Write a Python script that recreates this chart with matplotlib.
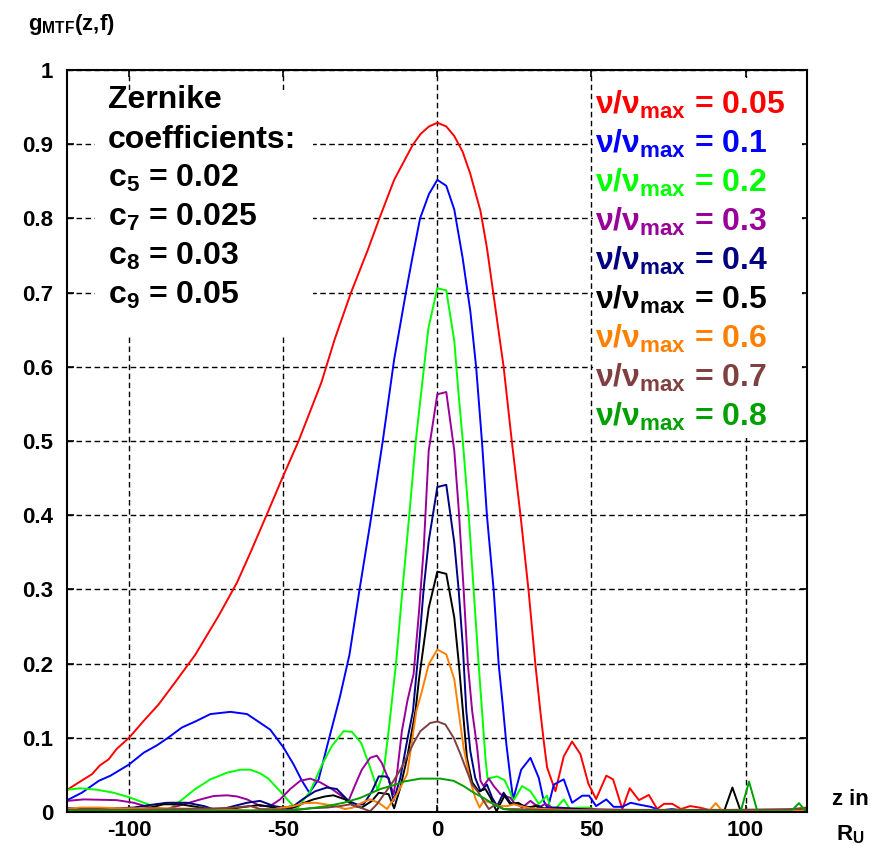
import numpy as np
import matplotlib
matplotlib.use('Agg')
import matplotlib.pyplot as plt
from matplotlib.patches import Rectangle

plt.rcParams['font.family'] = ['Liberation Sans', 'DejaVu Sans']
plt.rcParams['font.weight'] = 'bold'
plt.rcParams['mathtext.fontset'] = 'custom'
plt.rcParams['mathtext.rm'] = 'Liberation Sans:bold'
plt.rcParams['mathtext.it'] = 'Liberation Sans:bold'
plt.rcParams['mathtext.bf'] = 'Liberation Sans:bold'
plt.rcParams['axes.unicode_minus'] = False

#################### data #########################################
# nu/nu_max = 0.05
x_005 = [-120, -117, -112, -109.4, -106.6, -104, -100, -95.2, -90.4, -87.7, -85, -78.5, -71, -65, -60.8,
         -55.4, -50.5, -45, -37.6, -33.3, -28, -22.6, -18.8, -14, -8, -5.4, -2.7, 0, 2.9, 5.5, 8.2, 10.7,
         14, 16.1, 18.8, 21.5, 24.2, 27, 29.6, 31.8, 33.4, 34.5, 35.6, 38.3, 41, 43.7, 46.4, 49, 51.5,
         54.8, 57, 60, 62.4, 65.4, 68.6, 71.3, 73.5, 76.2, 79, 82, 85, 88, 92, 100, 110, 116, 120]
y_005 = [0.030, 0.038, 0.051, 0.063, 0.071, 0.085, 0.100, 0.123, 0.145, 0.160, 0.175, 0.212, 0.264, 0.309,
         0.348, 0.400, 0.448, 0.500, 0.579, 0.637, 0.700, 0.757, 0.800, 0.852, 0.899, 0.914, 0.924, 0.929,
         0.924, 0.911, 0.890, 0.860, 0.810, 0.760, 0.680, 0.600, 0.498, 0.399, 0.298, 0.199, 0.136, 0.096,
         0.060, 0.028, 0.075, 0.095, 0.078, 0.038, 0.0175, 0.049, 0.044, 0.004, 0.032, 0.016, 0.023, 0.004,
         0.011, 0.011, 0.004, 0.008, 0.006, 0.003, 0.002, 0.002, 0.002, 0.003, 0.006]

# 0.1
x_01 = [-120, -115.3, -109.8, -106, -100, -95.2, -90.9, -87.7, -82.8, -78.5, -73.6, -67.1, -61.7, -57.4,
        -54.2, -49.9, -46.6, -43.9, -41.5, -38.5, -35.3, -31.6, -28.5, -25.3, -21.5, -17.7, -14, -10.2,
        -8.1, -5.6, -2.7, 0, 2.9, 5.5, 8.2, 10.7, 12.6, 14.5, 16.1, 18.3, 19.9, 21.2, 22.4, 23.7, 24.6,
        27.2, 30.2, 32.9, 34.5, 35.8, 37.8, 41, 43.7, 47, 49.2, 51.5, 54.8, 57.2, 60, 62.7, 65.4, 69.2,
        72.4, 76, 80, 90, 100, 110, 120]
y_01 = [0.016, 0.026, 0.042, 0.049, 0.064, 0.080, 0.090, 0.099, 0.114, 0.122, 0.132, 0.135, 0.132, 0.120,
        0.111, 0.087, 0.064, 0.042, 0.026, 0.044, 0.096, 0.155, 0.212, 0.298, 0.396, 0.500, 0.610, 0.700,
        0.747, 0.800, 0.833, 0.852, 0.844, 0.812, 0.747, 0.675, 0.599, 0.498, 0.399, 0.298, 0.199, 0.145,
        0.091, 0.046, 0.017, 0.057, 0.073, 0.046, 0.015, 0.005, 0.037, 0.044, 0.0125, 0.022, 0.022, 0.008,
        0.017, 0.007, 0.007, 0.0125, 0.010, 0.007, 0.002, 0.004, 0.002, 0.002, 0.002, 0.002, 0.002]

# 0.2
x_02 = [-120, -115.8, -110.4, -105, -100, -95.2, -90.9, -87.7, -83.3, -78.5, -73.6, -68.2, -63.9, -60.6,
        -57.4, -54.8, -51, -47.7, -45.6, -41.2, -37.4, -34.2, -30.4, -27.7, -24.7, -21.8, -19.4, -17.4,
        -15.8, -13.4, -11.3, -9.1, -7, -4.3, -2.9, 0, 2.9, 5.5, 6.9, 8.3, 10.2, 11.8, 13.4, 14.5, 15.6,
        16.3, 19.4, 21.8, 23.5, 24.6, 27.5, 30.2, 32.9, 35.6, 36.6, 38.3, 41, 43, 46, 49, 51.7, 60, 80,
        100, 120]
y_02 = [0.030, 0.032, 0.030, 0.026, 0.020, 0.0125, 0.006, 0.002, 0.015, 0.031, 0.044, 0.053, 0.057, 0.057,
        0.052, 0.045, 0.028, 0.0125, 0.004, 0.028, 0.064, 0.089, 0.109, 0.108, 0.093, 0.060, 0.030, 0.055,
        0.109, 0.200, 0.300, 0.400, 0.500, 0.600, 0.652, 0.706, 0.703, 0.635, 0.563, 0.498, 0.399, 0.298,
        0.199, 0.136, 0.073, 0.045, 0.048, 0.043, 0.028, 0.015, 0.035, 0.028, 0.011, 0.022, 0.006, 0.004,
        0.017, 0.004, 0.006, 0.006, 0.003, 0.003, 0.003, 0.003, 0.003]

# 0.3
x_03 = [-120, -114.7, -104, -98.5, -93.1, -87.7, -82.2, -76.8, -72.5, -68.2, -65, -61.7, -57.4, -54.2,
        -51, -47.7, -44.5, -41.2, -38, -34.2, -28.8, -26.6, -24.5, -21.8, -19.6, -18, -15.8, -14.2, -13.1,
        -11.5, -9.7, -7.7, -6, -4.4, -2.8, 0, 2.9, 5.5, 6.9, 8.5, 9.9, 11.3, 12.9, 14, 15, 16.7, 18.3,
        20.5, 23.7, 24.8, 27.5, 30.2, 32.9, 35, 37.2, 45, 60, 80, 100, 120]
y_03 = [0.015, 0.017, 0.016, 0.0125, 0.006, 0.004, 0.0104, 0.017, 0.0216, 0.0225, 0.021, 0.017, 0.008,
        0.008, 0.017, 0.031, 0.042, 0.045, 0.040, 0.031, 0.015, 0.037, 0.057, 0.073, 0.076, 0.066, 0.044,
        0.024, 0.051, 0.109, 0.150, 0.186, 0.267, 0.356, 0.487, 0.563, 0.566, 0.487, 0.410, 0.302, 0.199,
        0.136, 0.087, 0.042, 0.035, 0.045, 0.035, 0.024, 0.019, 0.013, 0.006, 0.015, 0.006, 0.011, 0.006,
        0.004, 0.003, 0.002, 0.002, 0.002]

# 0.4
x_04 = [-120, -109.4, -98.5, -93.1, -87.7, -81.2, -75.7, -71.4, -66, -61.7, -57.5, -53, -50, -46.6, -43.4,
        -39.6, -35.8, -32.6, -28.8, -26, -23.9, -21.2, -19, -16.9, -15.8, -14.2, -12, -9.8, -7.9, -6, -4.4,
        -2.8, 0, 2.9, 5.5, 6.9, 8.3, 9.4, 10.7, 12.3, 14, 16.1, 17.8, 19.4, 21.5, 23.7, 26.2, 30.2, 32.4,
        34.5, 39, 50, 70, 100, 120]
y_04 = [0.005, 0.004, 0.006, 0.0095, 0.0125, 0.0125, 0.008, 0.002, 0.008, 0.0125, 0.015, 0.008, 0.006,
        0.008, 0.018, 0.028, 0.033, 0.031, 0.015, 0.010, 0.0104, 0.028, 0.048, 0.048, 0.046, 0.015, 0.046,
        0.096, 0.136, 0.221, 0.302, 0.365, 0.438, 0.441, 0.363, 0.300, 0.221, 0.136, 0.082, 0.046, 0.028,
        0.037, 0.019, 0.008, 0.026, 0.0125, 0.010, 0.006, 0.009, 0.005, 0.006, 0.003, 0.002, 0.002, 0.002]

# 0.5
x_05 = [-120, -109, -98.5, -93, -88.8, -83.3, -76.8, -71.4, -66, -60.6, -57.5, -53, -50, -46.6, -43.4,
        -40.2, -36.4, -33.7, -29.9, -27, -24.5, -21.2, -19, -15.8, -14, -12, -9.8, -7.1, -6, -4.4, -2.8, 0,
        2.9, 5.5, 6.9, 8.3, 9.6, 11.3, 13.4, 15.6, 17.3, 19.2, 21.8, 23.7, 26.2, 28.9, 32, 33.8, 40, 60,
        80, 93, 95.7, 98.4, 110, 120]
y_05 = [0.004, 0.003, 0.003, 0.006, 0.0104, 0.0104, 0.006, 0.002, 0.005, 0.008, 0.0094, 0.006, 0.003,
        0.006, 0.012, 0.017, 0.021, 0.0225, 0.017, 0.008, 0.006, 0.015, 0.026, 0.024, 0.005, 0.033, 0.073,
        0.136, 0.177, 0.226, 0.275, 0.324, 0.321, 0.262, 0.203, 0.136, 0.073, 0.040, 0.028, 0.031, 0.019,
        0.001, 0.022, 0.010, 0.0125, 0.006, 0.008, 0.004, 0.003, 0.002, 0.002, 0.001, 0.033, 0.001, 0.002,
        0.002]

# 0.6
x_06 = [-120, -115.8, -109.4, -104, -98.5, -87.7, -71.4, -60.6, -57.5, -53, -50, -46.6, -42.9, -39.6,
        -36.4, -33, -29.9, -27.3, -24.5, -21.8, -19, -16.3, -13.1, -9.8, -8.2, -6.8, -5, -2.8, 0, 2.9, 5.5,
        6.9, 8.5, 10.7, 12.3, 13.7, 15, 17.3, 20, 22.7, 24.8, 27, 30.2, 40, 60, 80, 88, 90.3, 92.5, 100,
        120]
y_06 = [0.004, 0.006, 0.006, 0.005, 0.005, 0.005, 0.004, 0.002, 0.003, 0.004, 0.006, 0.008, 0.012, 0.0125,
        0.0104, 0.008, 0.004, 0.006, 0.0125, 0.017, 0.0125, 0.004, 0.024, 0.051, 0.096, 0.136, 0.163, 0.199,
        0.219, 0.2125, 0.179, 0.136, 0.087, 0.042, 0.019, 0.006, 0.015, 0.0125, 0.008, 0.008, 0.0104, 0.008,
        0.005, 0.003, 0.002, 0.002, 0.001, 0.012, 0.001, 0.002, 0.002]

# 0.7
x_07 = [-120, -100, -82, -71.4, -66, -60.6, -57.5, -46.6, -41.2, -35.8, -31.5, -28.2, -25, -21.8, -19.6,
        -16.9, -14.2, -12, -9.8, -7.7, -5.5, -2.3, 0, 2.6, 5.3, 7.5, 9.6, 11.3, 13.4, 15, 16.7, 18.8, 21.5,
        24.8, 40, 60, 80, 100, 115, 120]
y_07 = [0.003, 0.003, 0.004, 0.005, 0.006, 0.008, 0.004, 0.003, 0.005, 0.006, 0.008, 0.0104, 0.006, 0.001,
        0.0104, 0.026, 0.042, 0.057, 0.075, 0.093, 0.109, 0.120, 0.122, 0.118, 0.100, 0.078, 0.055, 0.037,
        0.026, 0.015, 0.004, 0.010, 0.004, 0.004, 0.002, 0.002, 0.002, 0.003, 0.004, 0.006]

# 0.8
x_08 = [-120, -100, -80, -60, -46.6, -41.2, -35.8, -30.4, -25, -18.5, -14.2, -10.9, -5.5, -2.3, 1, 5.3,
        8.5, 11.8, 15, 18.3, 21.5, 24.8, 40, 60, 80, 98.4, 101.1, 103.8, 114.7, 117.3, 119.5, 120]
y_08 = [0.002, 0.002, 0.002, 0.002, 0.002, 0.005, 0.008, 0.0125, 0.019, 0.031, 0.036, 0.041, 0.045, 0.045,
        0.045, 0.042, 0.035, 0.026, 0.019, 0.0104, 0.004, 0.002, 0.001, 0.001, 0.001, 0.001, 0.041, 0.001,
        0.001, 0.012, 0.001, 0.001]

freqs = ['0.05', '0.1', '0.2', '0.3', '0.4', '0.5', '0.6', '0.7', '0.8']
colors = ['#ff0000', '#0000ff', '#00ff00', '#990099', '#000080', '#000000', '#ff8000', '#804040', '#00a000']
curves = [(x_005, y_005), (x_01, y_01), (x_02, y_02), (x_03, y_03), (x_04, y_04),
          (x_05, y_05), (x_06, y_06), (x_07, y_07), (x_08, y_08)]

zernike_lines = ['Zernike', 'coefficients:', r'c$_5$ = 0.02', r'c$_7$ = 0.025', r'c$_8$ = 0.03', r'c$_9$ = 0.05']

xticks = [-100, -50, 0, 50, 100]
xticklabels = ['-100', '-50', '0', '50', '100']
yticks = [0, 0.1, 0.2, 0.3, 0.4, 0.5, 0.6, 0.7, 0.8, 0.9, 1.0]
yticklabels = ['0', '0.1', '0.2', '0.3', '0.4', '0.5', '0.6', '0.7', '0.8', '0.9', '1']

#################### plot #####################
fig = plt.figure(figsize=(8.86, 8.44), dpi=100)
ax = fig.add_axes([0.0760, 0.0379, 0.8352, 0.8791])

for (xs, ys), c in zip(curves, colors):
    ax.plot(xs, ys, color=c, linewidth=1.4, zorder=2)

ax.set_xlim(-120, 120)
ax.set_ylim(0, 1)
ax.set_xticks(xticks)
ax.set_xticklabels(xticklabels)
ax.set_yticks(yticks)
ax.set_yticklabels(yticklabels)
ax.tick_params(direction='in', length=5, width=1.2, top=True, right=True, labelsize=16, pad=10)
ax.tick_params(axis='x', pad=6)
ax.set_axisbelow(True)
ax.grid(True, color='black', linestyle=(0, (4, 2.5)), linewidth=1.0)
for s in ax.spines.values():
    s.set_linewidth(1.5)

# white boxes behind the texts hide the grid, like gnuplot's opaque key
ax.add_patch(Rectangle((-111, 0.640), 70.8, 0.333, facecolor='white', edgecolor='none', zorder=1))
ax.add_patch(Rectangle((50.4, 0.504), 67.8, 0.485, facecolor='white', edgecolor='none', zorder=1))

fs = 23
for i, t in enumerate(zernike_lines):
    ax.text(0.0548, 0.9483 - i * 0.0528, t, transform=ax.transAxes, fontsize=fs,
            fontweight='bold', va='baseline', ha='left', zorder=3)

for i, (f, c) in enumerate(zip(freqs, colors)):
    ax.text(0.7126, 0.9407 - i * 0.05256, r'$ν/ν_{max}$ = ' + f, transform=ax.transAxes,
            fontsize=fs, fontweight='bold', color=c, va='baseline', ha='left', zorder=3)

fig.text(28 / 886, (844 - 30) / 844, r'g$_{MTF}$(z,f)', fontsize=16, fontweight='bold',
         va='baseline', ha='left')
fig.text(850 / 886, (844 - 805) / 844, 'z in', fontsize=16, fontweight='bold', va='baseline', ha='center')
fig.text(850 / 886, (844 - 840) / 844, r'R$_U$', fontsize=16, fontweight='bold', va='baseline', ha='center')

fig.savefig('out.png', dpi=100)
